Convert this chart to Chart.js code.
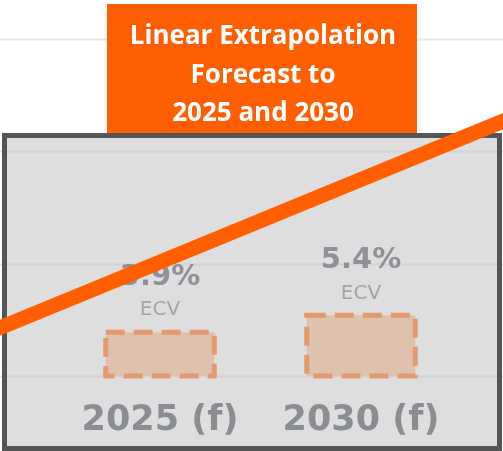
<!DOCTYPE html>
<html>
<head>
<meta charset="utf-8">
<script src="https://cdn.jsdelivr.net/npm/chart.js@4.4.0/dist/chart.umd.min.js"></script>
<style>
html,body{margin:0;padding:0;background:#fff;}
#wrap{width:503px;height:451px;}
</style>
</head>
<body>
<div id="wrap"><canvas id="c" width="503" height="451"></canvas></div>
<script>
// ---- data ----
const categories = ["2025 (f)", "2030 (f)"];
const ecvValues = [3.9, 5.4];
const valueLabels = ["3.9%", "5.4%"];
const subLabel = "ECV";
const gridValues = [0, 10, 20, 30];
const trendX = [-0.85, 1.75];
const trendY = [3.9, 23.0];
const titleLines = ["Linear Extrapolation", "Forecast to", "2025 and 2030"];

const ORANGE = "#ff5f00";

const decorPlugin = {
  id: "decor",
  beforeDraw(chart) {
    const ctx = chart.ctx;
    const W = chart.width, H = chart.height;
    const ys = chart.scales.y;
    ctx.save();
    ctx.fillStyle = "#ffffff";
    ctx.fillRect(0, 0, W, H);
    // gray panel
    ctx.fillStyle = "#dedede";
    ctx.fillRect(4.5, 135.5, 495, 313);
    // grid lines
    gridValues.forEach(v => {
      const py = Math.round(ys.getPixelForValue(v)) + 0.5;
      ctx.beginPath();
      ctx.moveTo(0, py);
      ctx.lineTo(W, py);
      ctx.lineWidth = 2;
      ctx.strokeStyle = py < 135 ? "#e8e8ee" : "rgba(200,200,205,0.55)";
      ctx.stroke();
    });
    // panel border
    ctx.lineWidth = 5;
    ctx.strokeStyle = "#555555";
    ctx.strokeRect(4.5, 135.5, 495, 313);
    // title box
    ctx.fillStyle = ORANGE;
    ctx.fillRect(107, 4, 310, 129);
    ctx.fillStyle = "#ffffff";
    ctx.font = "bold 26px 'Open Sans'";
    ctx.textAlign = "center";
    ctx.textBaseline = "alphabetic";
    const baselines = [44, 83, 121];
    titleLines.forEach((t, i) => ctx.fillText(t, 263, baselines[i]));
    ctx.restore();
  },
  afterDatasetDraw(chart, args) {
    if (args.meta.type !== "bar") return;
    const ctx = chart.ctx;
    ctx.save();
    args.meta.data.forEach((el, i) => {
      const p = el.getProps(["x", "y", "base", "width"], true);
      ctx.setLineDash([19, 9]);
      ctx.lineWidth = 5;
      ctx.strokeStyle = "rgb(228,154,112)";
      ctx.strokeRect(p.x - p.width / 2, p.y, p.width, p.base - p.y);
      ctx.setLineDash([]);
      ctx.textAlign = "center";
      ctx.textBaseline = "middle";
      ctx.fillStyle = "#8e9197";
      ctx.font = "bold 29px 'DejaVu Sans'";
      ctx.fillText(valueLabels[i], p.x, p.y - 55);
      ctx.fillStyle = "#a2a5a9";
      ctx.font = "20px 'DejaVu Sans'";
      ctx.fillText(subLabel, p.x, p.y - 22);
    });
    ctx.restore();
  }
};

new Chart(document.getElementById("c"), {
  type: "bar",
  data: {
    labels: categories,
    datasets: [
      {
        type: "bar",
        data: ecvValues,
        backgroundColor: "#dfc1ad",
        borderWidth: 0,
        grouped: false,
        barPercentage: 0.54,
        categoryPercentage: 1.0,
        order: 1
      },
      {
        type: "line",
        data: trendX.map((x, i) => ({ x: x, y: trendY[i] })),
        xAxisID: "xt",
        borderColor: ORANGE,
        borderWidth: 15,
        borderCapStyle: "butt",
        pointRadius: 0,
        fill: false,
        clip: false,
        order: 0
      }
    ]
  },
  options: {
    responsive: false,
    animation: false,
    devicePixelRatio: 1,
    layout: { padding: { left: 59.5, right: 41.5, top: 39, bottom: 9 } },
    plugins: { legend: { display: false }, tooltip: { enabled: false }, title: { display: false } },
    scales: {
      x: {
        type: "category",
        offset: true,
        grid: { display: false, drawTicks: false },
        border: { display: false },
        ticks: {
          padding: 24,
          color: "#8a8d92",
          font: { family: "'DejaVu Sans'", size: 35, weight: "bold" }
        },
        afterFit(scale) { scale.height = 66; }
      },
      xt: { type: "linear", display: false, offset: false, min: -0.5, max: 1.5 },
      y: { type: "linear", display: false, min: 0, max: 30 }
    }
  },
  plugins: [decorPlugin]
});
</script>
</body>
</html>
